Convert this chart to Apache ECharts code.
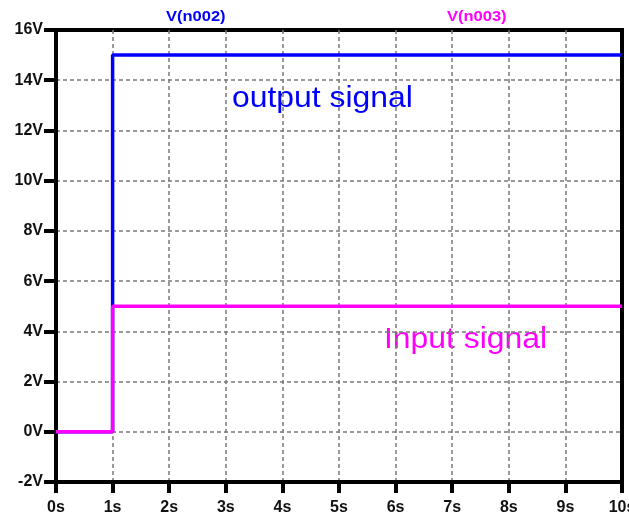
<!DOCTYPE html>
<html>
<head>
<meta charset="utf-8">
<script src="https://cdn.jsdelivr.net/npm/echarts@6/dist/echarts.min.js"></script>
<style>
  html, body { margin: 0; padding: 0; background: #fff; }
  #chart { width: 629px; height: 513px; }
</style>
</head>
<body>
<div id="chart"></div>
<script>
// step waveforms, LTspice style
const stepTimes = [0, 1, 1, 10];      // s
const outputVolts = [0, 0, 15, 15];   // V(n002)
const inputVolts = [0, 0, 5, 5];      // V(n003)
const seriesNames = ['V(n002)', 'V(n003)'];
const noteLabels = ['output signal', 'Input signal'];

const BLUE = '#0000ff', MAGENTA = '#ff00ff';
const FONT = 'Arial, "Liberation Sans", sans-serif';

const toPairs = vals => stepTimes.map((t, i) => [t, vals[i]]);

var chart = echarts.init(document.getElementById('chart'));

const gridLine = {
  show: true, showMinLine: false, showMaxLine: false,
  lineStyle: { color: '#7a7a7a', type: [4, 3], width: 1.5 }
};

var option = {
  animation: false,
  backgroundColor: '#fff',
  grid: {
    left: 56, right: 7, top: 30, bottom: 31,
    outerBoundsMode: 'none', containLabel: false,
    show: true, borderColor: '#000', borderWidth: 4
  },
  xAxis: {
    type: 'value', min: 0, max: 10, interval: 1,
    axisLine: { show: true, onZero: false, lineStyle: { color: '#000', width: 4 } },
    axisTick: { show: true, length: 11, lineStyle: { color: '#000', width: 4 } },
    axisLabel: {
      formatter: '{value}s', color: '#111', fontFamily: FONT,
      fontWeight: 'bold', fontSize: 16, margin: 18, hideOverlap: false
    },
    splitLine: gridLine
  },
  yAxis: {
    type: 'value', min: -2, max: 16, interval: 2,
    axisLine: { show: true, onZero: false, lineStyle: { color: '#000', width: 4 } },
    axisTick: { show: true, length: 12, lineStyle: { color: '#000', width: 4 } },
    axisLabel: {
      formatter: '{value}V', color: '#111', fontFamily: FONT,
      fontWeight: 'bold', fontSize: 16, margin: 13
    },
    splitLine: gridLine
  },
  series: [
    {
      name: seriesNames[0], type: 'line', data: toPairs(outputVolts),
      showSymbol: false, symbol: 'none',
      lineStyle: { color: BLUE, width: 3.5 }, z: 3
    },
    {
      name: seriesNames[1], type: 'line', data: toPairs(inputVolts),
      showSymbol: false, symbol: 'none',
      lineStyle: { color: MAGENTA, width: 3.5 }, z: 4
    }
  ],
  graphic: [
    { type: 'text', x: 166, y: 9, scaleX: 1.1,
      style: { text: seriesNames[0], fill: BLUE, font: 'bold 15px ' + FONT } },
    { type: 'text', x: 447, y: 9, scaleX: 1.1,
      style: { text: seriesNames[1], fill: MAGENTA, font: 'bold 15px ' + FONT } },
    { type: 'text', x: 232, y: 84, scaleX: 1.1,
      style: { text: noteLabels[0], fill: BLUE, font: '29px ' + FONT } },
    { type: 'text', x: 384, y: 325, scaleX: 1.1,
      style: { text: noteLabels[1], fill: MAGENTA, font: '29px ' + FONT } }
  ]
};

option && chart.setOption(option);
</script>
</body>
</html>
